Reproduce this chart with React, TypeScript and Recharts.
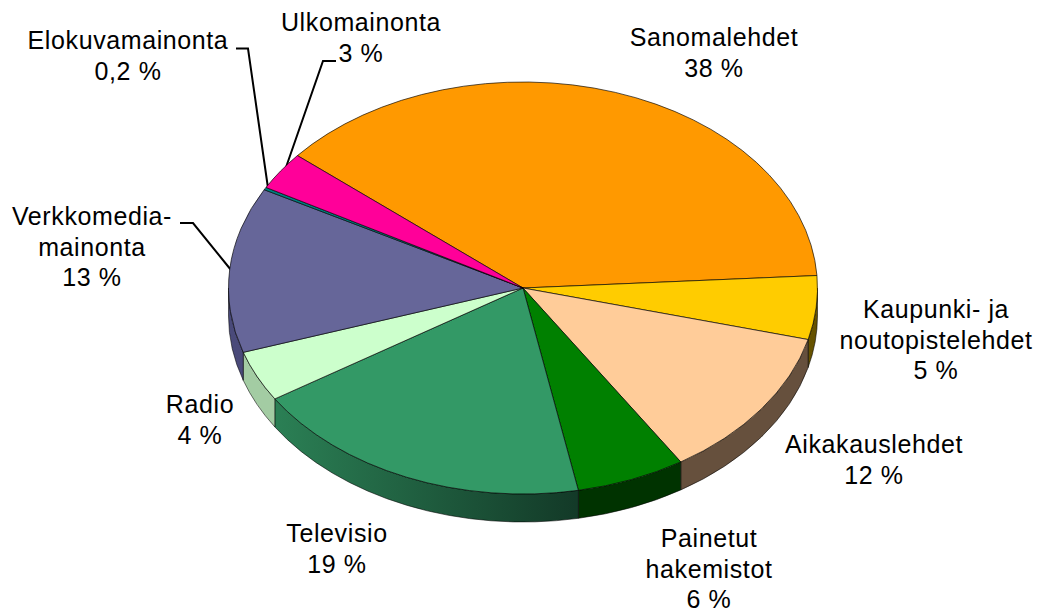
import { PieChart, Pie, Cell } from "recharts";

const names = [
  "Sanomalehdet",
  "Kaupunki- ja\nnoutopistelehdet",
  "Aikakauslehdet",
  "Painetut\nhakemistot",
  "Televisio",
  "Radio",
  "Verkkomedia-\nmainonta",
  "Elokuvamainonta",
  "Ulkomainonta",
];
const shares = [38, 5, 12, 6, 19, 4, 13, 0.2, 3];
const topColors = ["#ff9900", "#ffcc00", "#ffcc99", "#008000", "#339966", "#ccffcc", "#666699", "#008080", "#ff0099"];
const wallColors = ["#996000", "#665200", "#66503d", "#003300", "url(#tvWall)", "#a3cca3", "#4a4a7a", "#004d4d", "#990060"];

const data = names.map((name, i) => ({ name, value: shares[i] }));

// the pie is drawn flat and squashed, as in the tilted original
const SQUASH = 206 / 294.5;
const DEPTH = 28;

// where each label sits: centre x, first baseline
const labelSpots = [
  [714, 46],
  [936, 318],
  [874, 453],
  [709, 547],
  [337, 542],
  [200, 413],
  [92, 225],
  [128, 49],
  [361, 31],
];
const leaders = [
  "236,48.5 248,48.5 268,188",
  "336,61 323,61 284,173",
  "180,223 193,223 231,270",
];

const LINE_HEIGHT = 30.5;

const rim = (cx: number, cy: number, r: number, deg: number, dy = 0) => {
  const a = (deg * Math.PI) / 180;
  return `${cx + r * Math.cos(a)} ${cy - r * SQUASH * Math.sin(a) + dy}`;
};

function TopSlice(props: any) {
  const { cx, cy, outerRadius: r, startAngle: s, endAngle: e, fill } = props;
  const large = Math.abs(s - e) > 180 ? 1 : 0;
  const d = `M${cx} ${cy} L${rim(cx, cy, r, s)} A${r} ${r * SQUASH} 0 ${large} 1 ${rim(cx, cy, r, e)} Z`;
  return <path d={d} fill={fill} stroke="#000" strokeOpacity={0.65} strokeWidth={1} />;
}

function WallSlice(props: any) {
  const { cx, cy, outerRadius: r, startAngle: s, endAngle: e, fill } = props;
  // only the front half of the rim shows
  const a1 = Math.min(s, 0);
  const a2 = Math.max(e, -180);
  if (a1 <= a2) return null;
  const ry = r * SQUASH;
  const d =
    `M${rim(cx, cy, r, a1)} A${r} ${ry} 0 0 1 ${rim(cx, cy, r, a2)} ` +
    `L${rim(cx, cy, r, a2, DEPTH)} A${r} ${ry} 0 0 0 ${rim(cx, cy, r, a1, DEPTH)} Z`;
  return <path d={d} fill={fill} stroke="#000" strokeOpacity={0.55} strokeWidth={1} />;
}

function SliceLabel(props: any) {
  const { index, name, value } = props;
  const [x, y] = labelSpots[index];
  const lines = [...String(name).split("\n"), `${String(value).replace(".", ",")} %`];
  return (
    <text x={x} y={y} textAnchor="middle" fontFamily="'Liberation Sans', Arial, sans-serif" fontSize={25} letterSpacing={0.6} fill="#000">
      {lines.map((l, i) => (
        <tspan key={i} x={x} dy={i === 0 ? 0 : LINE_HEIGHT}>{l}</tspan>
      ))}
    </text>
  );
}

export default function App() {
  return (
    <div style={{ position: "absolute", left: 0, top: 0, background: "#fff" }}>
      <PieChart width={1042} height={614} margin={{ top: 0, right: 0, bottom: 0, left: 0 }}>
        <defs>
          <linearGradient id="tvWall" gradientUnits="userSpaceOnUse" x1="273" y1="0" x2="575" y2="0">
            <stop offset="0" stopColor="#2b8055" />
            <stop offset="1" stopColor="#133a28" />
          </linearGradient>
        </defs>
        <Pie
          data={data}
          dataKey="value"
          nameKey="name"
          cx={523}
          cy={288}
          outerRadius={294.5}
          startAngle={140}
          endAngle={-220}
          stroke="none"
          shape={WallSlice}
          inactiveShape={WallSlice}
          isAnimationActive={false}
        >
          {data.map((d, i) => <Cell key={d.name} fill={wallColors[i]} />)}
        </Pie>
        <Pie
          data={data}
          dataKey="value"
          nameKey="name"
          cx={523}
          cy={288}
          outerRadius={294.5}
          startAngle={140}
          endAngle={-220}
          shape={TopSlice}
          inactiveShape={TopSlice}
          label={SliceLabel}
          labelLine={false}
          isAnimationActive={false}
        >
          {data.map((d, i) => <Cell key={d.name} fill={topColors[i]} />)}
        </Pie>
        {leaders.map((pts) => (
          <polyline key={pts} points={pts} fill="none" stroke="#000" strokeWidth={2} />
        ))}
      </PieChart>
    </div>
  );
}
